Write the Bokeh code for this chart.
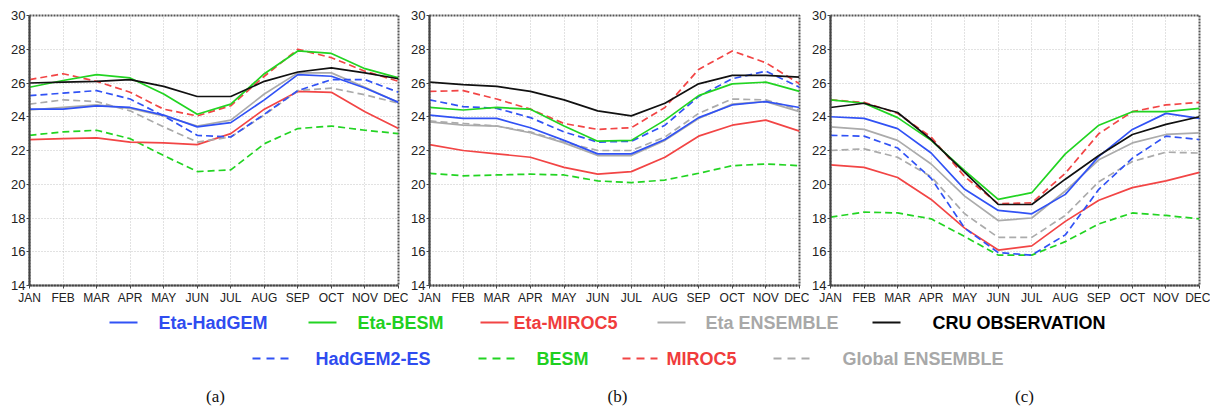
from bokeh.plotting import figure
from bokeh.layouts import row, column
from bokeh.models import Range1d, FixedTicker
from bokeh.core.properties import value
from bokeh.embed import file_html
from bokeh.resources import INLINE

months = ["JAN", "FEB", "MAR", "APR", "MAY", "JUN", "JUL", "AUG", "SEP", "OCT", "NOV", "DEC"]
y_ticks = [14, 16, 18, 20, 22, 24, 26, 28, 30]
series_names = ["Eta-HadGEM", "Eta-BESM", "Eta-MIROC5", "Eta ENSEMBLE", "CRU OBSERVATION",
                "HadGEM2-ES", "BESM", "MIROC5", "Global ENSEMBLE"]
captions = ["(a)", "(b)", "(c)"]

# ---- panel (a)
a_eta_hadgem = [24.45, 24.45, 24.65, 24.55, 24.1, 23.4, 23.65, 25.0, 26.5, 26.4, 25.7, 24.85]
a_eta_besm = [25.75, 26.15, 26.5, 26.3, 25.35, 24.15, 24.75, 26.55, 27.9, 27.75, 26.85, 26.3]
a_eta_miroc5 = [22.65, 22.7, 22.75, 22.5, 22.45, 22.35, 23.0, 24.45, 25.5, 25.45, 24.3, 23.3]
a_eta_ens = [24.4, 24.55, 24.7, 24.5, 24.05, 23.45, 23.8, 25.35, 26.6, 26.6, 25.75, 24.85]
a_cru = [26.0, 26.05, 26.1, 26.2, 25.8, 25.2, 25.2, 26.1, 26.65, 26.9, 26.6, 26.25]
a_hadgem2 = [25.25, 25.4, 25.55, 25.05, 24.05, 22.9, 22.8, 24.15, 25.55, 26.2, 26.2, 25.45]
a_besm = [22.9, 23.1, 23.2, 22.7, 21.7, 20.75, 20.85, 22.4, 23.3, 23.45, 23.2, 23.0]
a_miroc5 = [26.2, 26.55, 26.1, 25.45, 24.45, 24.05, 24.65, 26.4, 28.0, 27.5, 26.7, 26.1]
a_global_ens = [24.75, 25.0, 24.9, 24.35, 23.4, 22.5, 22.8, 24.1, 25.55, 25.7, 25.3, 24.8]

# ---- panel (b)
b_eta_hadgem = [24.1, 23.9, 23.9, 23.35, 22.6, 21.8, 21.8, 22.65, 23.95, 24.7, 24.9, 24.55]
b_eta_besm = [24.55, 24.4, 24.55, 24.45, 23.45, 22.55, 22.6, 23.8, 25.25, 25.95, 26.05, 25.5]
b_eta_miroc5 = [22.35, 22.0, 21.8, 21.6, 21.0, 20.6, 20.75, 21.6, 22.85, 23.5, 23.8, 23.15]
b_eta_ens = [23.7, 23.5, 23.45, 23.05, 22.45, 21.7, 21.7, 22.6, 23.9, 24.75, 24.9, 24.3]
b_cru = [26.05, 25.9, 25.8, 25.5, 25.0, 24.35, 24.05, 24.8, 25.95, 26.45, 26.45, 26.35]
b_hadgem2 = [25.0, 24.6, 24.5, 23.95, 23.1, 22.5, 22.55, 23.5, 25.2, 26.25, 26.7, 25.75]
b_besm = [20.65, 20.5, 20.55, 20.6, 20.55, 20.2, 20.1, 20.25, 20.65, 21.1, 21.2, 21.1]
b_miroc5 = [25.5, 25.55, 25.05, 24.45, 23.6, 23.25, 23.35, 24.55, 26.8, 27.9, 27.2, 25.95]
b_global_ens = [23.75, 23.6, 23.45, 23.1, 22.5, 22.0, 22.0, 22.8, 24.2, 25.05, 25.0, 24.4]

# ---- panel (c)
c_eta_hadgem = [24.0, 23.9, 23.3, 21.85, 19.7, 18.45, 18.25, 19.4, 21.65, 23.25, 24.2, 23.9]
c_eta_besm = [25.0, 24.8, 23.95, 22.6, 20.8, 19.1, 19.5, 21.8, 23.5, 24.3, 24.3, 24.5]
c_eta_miroc5 = [21.15, 21.0, 20.4, 19.1, 17.4, 16.1, 16.35, 17.8, 19.05, 19.8, 20.2, 20.7]
c_eta_ens = [23.4, 23.25, 22.6, 21.2, 19.3, 17.85, 18.0, 19.6, 21.45, 22.45, 22.95, 23.05]
c_cru = [24.55, 24.8, 24.25, 22.65, 20.7, 18.8, 18.8, 20.3, 21.7, 22.95, 23.55, 24.0]
c_hadgem2 = [22.9, 22.85, 22.15, 20.35, 17.4, 15.95, 15.8, 17.0, 19.7, 21.55, 22.85, 22.65]
c_besm = [18.05, 18.35, 18.3, 17.95, 16.9, 15.8, 15.8, 16.6, 17.65, 18.3, 18.15, 17.95]
c_miroc5 = [25.0, 24.85, 24.2, 22.8, 20.45, 18.85, 18.9, 20.65, 23.0, 24.3, 24.7, 24.85]
c_global_ens = [22.0, 22.1, 21.6, 20.45, 18.25, 16.85, 16.85, 18.15, 20.15, 21.35, 21.9, 21.85]

panels = [
    [a_eta_hadgem, a_eta_besm, a_eta_miroc5, a_eta_ens, a_cru, a_hadgem2, a_besm, a_miroc5, a_global_ens],
    [b_eta_hadgem, b_eta_besm, b_eta_miroc5, b_eta_ens, b_cru, b_hadgem2, b_besm, b_miroc5, b_global_ens],
    [c_eta_hadgem, c_eta_besm, c_eta_miroc5, c_eta_ens, c_cru, c_hadgem2, c_besm, c_miroc5, c_global_ens],
]

# ---- styles (not data)
BLUE, GREEN, RED, GRAY, BLACK = "#3152f5", "#22d422", "#f24545", "#ababab", "#111111"
line_colors = [BLUE, GREEN, RED, GRAY, BLACK, BLUE, GREEN, RED, GRAY]
text_colors = ["#2f4cf0", "#1fd01f", "#f03c3c", "#a8a8a8", "#000000", "#2f4cf0", "#1fd01f", "#f03c3c", "#a8a8a8"]
dashes = ["solid"] * 5 + ["7 4"] * 4
draw_order = [6, 2, 3, 8, 0, 5, 7, 1, 4]

x_idx = list(range(len(months)))
FONT = "Liberation Sans"
frame_w = [369, 370, 369]
border_left = [29, 20, 20]
border_right = [10, 10, 11]

figs = []
for k, data in enumerate(panels):
    p = figure(frame_width=frame_w[k], frame_height=270,
               min_border_left=border_left[k], min_border_right=border_right[k],
               min_border_top=15, min_border_bottom=22,
               x_range=Range1d(0, len(months) - 1), y_range=Range1d(14, 30),
               output_backend="svg", toolbar_location=None)
    for i in draw_order:
        p.line(x_idx, data[i], line_color=line_colors[i], line_width=1.7,
               line_dash=dashes[i])
    p.xaxis.ticker = FixedTicker(ticks=x_idx)
    p.xaxis.major_label_overrides = {i: m for i, m in enumerate(months)}
    p.yaxis.ticker = FixedTicker(ticks=y_ticks)
    for ax in (p.xaxis, p.yaxis):
        ax.major_label_text_font = FONT
        ax.major_label_text_color = "#222222"
        ax.axis_line_color = "#444444"
        ax.axis_line_width = 2
        ax.major_tick_line_color = "#444444"
        ax.major_tick_out = 3
        ax.major_tick_in = 0
        ax.minor_tick_out = 0
        ax.minor_tick_in = 0
    p.xaxis.major_label_text_font_size = "12px"
    p.yaxis.major_label_text_font_size = "13px"
    p.xaxis.axis_line_dash = "2 1"
    p.yaxis.major_label_standoff = 1
    p.xaxis.major_label_standoff = 2
    p.xgrid.ticker = FixedTicker(ticks=x_idx)
    p.ygrid.ticker = FixedTicker(ticks=y_ticks)
    p.grid.grid_line_color = "#c4c4c4"
    p.grid.grid_line_dash = "1 2"
    p.grid.grid_line_width = 1
    p.outline_line_color = "#555555"
    p.outline_line_width = 2
    p.outline_line_dash = "2 1"
    p.background_fill_color = "white"
    p.border_fill_color = "white"
    figs.append(p)

# ---- legend + captions strip (page x, page y - 307)
leg_h = 100
lg = figure(width=1208, height=leg_h, x_range=Range1d(0, 1208), y_range=Range1d(leg_h, 0),
            x_axis_type=None, y_axis_type=None, min_border=0,
            output_backend="svg", toolbar_location=None)
lg.outline_line_color = None
lg.grid.visible = False

key_x0 = [109, 308, 480, 657, 872, 252, 478, 622, 773]
key_x1 = [137, 336, 508, 685, 900, 288, 515, 657, 811]
text_x = [158, 357, 513, 705, 932, 315, 536, 666, 842]
row_y = [15, 15, 15, 15, 15, 51, 51, 51, 51]
for i in range(len(series_names)):
    lg.segment(x0=[key_x0[i]], y0=[row_y[i]], x1=[key_x1[i]], y1=[row_y[i]],
               line_color=line_colors[i], line_width=1.8,
               line_dash=dashes[i] if i < 5 else "8 6")
    lg.text(x=[text_x[i]], y=[row_y[i]], text=[series_names[i]],
            text_color=text_colors[i], text_font=value(FONT), text_font_style="bold",
            text_font_size="18px", text_baseline="middle", text_align="left")

cap_x = [215, 617, 1024]
lg.text(x=cap_x, y=[89] * 3, text=captions, text_color="#111111",
        text_font=value("Liberation Serif"), text_font_size="17px",
        text_baseline="middle", text_align="center")

layout = column(row(*figs, spacing=0), lg, spacing=0)
open("out.html", "w").write(file_html(layout, INLINE))
